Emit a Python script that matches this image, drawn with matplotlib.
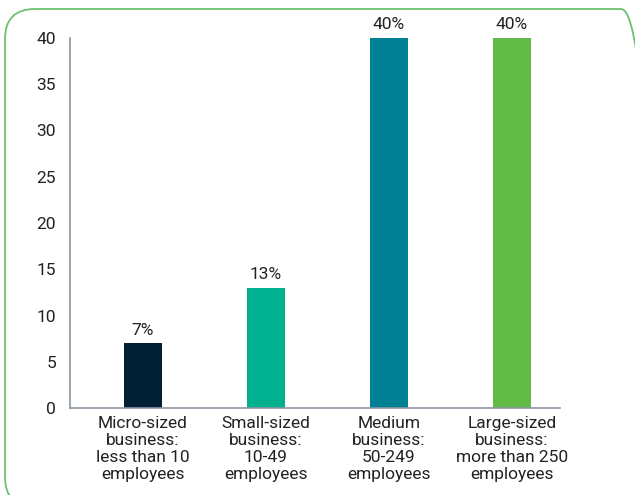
import matplotlib.pyplot as plt
from matplotlib.patches import FancyBboxPatch

categories = [
    'Micro-sized\nbusiness:\nless than 10\nemployees',
    'Small-sized\nbusiness:\n10-49\nemployees',
    'Medium\nbusiness:\n50-249\nemployees',
    'Large-sized\nbusiness:\nmore than 250\nemployees',
]
shares = [7, 13, 40, 40]
bar_colors = ['#011f35', '#00b08e', '#008093', '#62bb46']

plt.rcParams['font.family'] = ['Roboto', 'DejaVu Sans']

W, H = 635, 495
fig = plt.figure(figsize=(W / 100, H / 100), dpi=100)

# rounded green frame around the whole chart (inch units so corners stay round)
frame = FancyBboxPatch((0.05, -0.12), 6.46, 4.98,
                       boxstyle='round,pad=0,rounding_size=0.3',
                       transform=fig.dpi_scale_trans, facecolor='none',
                       edgecolor='#6cc070', linewidth=1.3, clip_on=False)
fig.patches.append(frame)

ax = fig.add_axes([70 / W, 87 / H, 490 / W, 370 / H])
x = range(len(shares))
ax.bar(x, shares, width=0.31, color=bar_colors)

for xi, v in zip(x, shares):
    ax.annotate(f'{v}%', (xi, v), xytext=(0, 4), textcoords='offset points',
                ha='center', va='bottom', fontsize=12.5, color='#222222')

ax.set_xlim(-0.59, 3.39)
ax.set_ylim(0, 40)
ax.set_yticks(range(0, 41, 5))
ax.set_xticks(list(x))
ax.set_xticklabels(categories, fontsize=12.5, color='#222222', linespacing=1.17)
ax.tick_params(axis='y', length=0, pad=10, labelsize=12.5, labelcolor='#222222')
ax.tick_params(axis='x', length=0, pad=6)

for side in ['top', 'right']:
    ax.spines[side].set_visible(False)
for side in ['left', 'bottom']:
    ax.spines[side].set_color('#8a96a3')
    ax.spines[side].set_linewidth(1.2)

fig.savefig('out.png', dpi=100)
